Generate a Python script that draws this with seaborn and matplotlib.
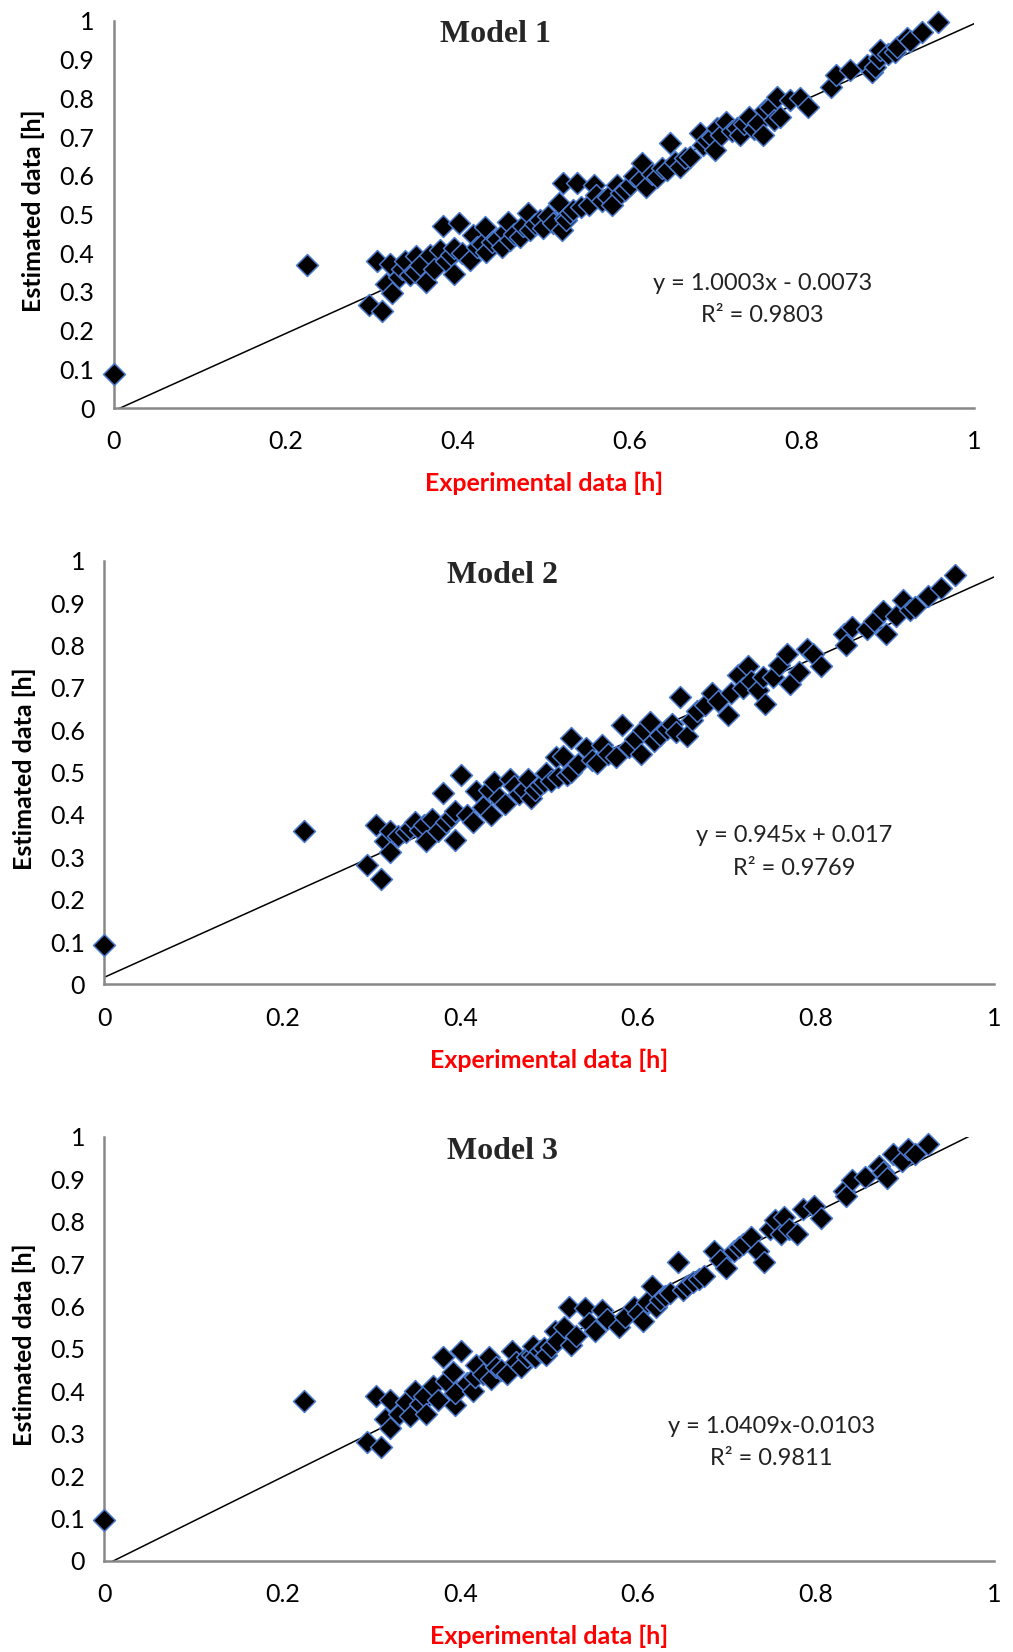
import matplotlib
matplotlib.use("Agg")
import matplotlib.pyplot as plt
import numpy as np
import pandas as pd
import seaborn as sns

# experimental vs estimated values
exp_1 = [0.000, 0.225, 0.297, 0.312, 0.306, 0.316, 0.321, 0.323, 0.331, 0.335,
         0.338, 0.344, 0.350, 0.351, 0.356, 0.363, 0.367, 0.372, 0.379, 0.383,
         0.386, 0.392, 0.395, 0.395, 0.401, 0.405, 0.414, 0.418, 0.422, 0.428,
         0.432, 0.433, 0.440, 0.445, 0.451, 0.455, 0.458, 0.460, 0.465, 0.472,
         0.476, 0.482, 0.484, 0.490, 0.495, 0.499, 0.505, 0.511, 0.517, 0.521,
         0.522, 0.524, 0.526, 0.530, 0.534, 0.538, 0.543, 0.552, 0.558, 0.561,
         0.568, 0.575, 0.579, 0.585, 0.590, 0.594, 0.600, 0.605, 0.612, 0.614,
         0.619, 0.625, 0.631, 0.637, 0.643, 0.647, 0.652, 0.658, 0.664, 0.670,
         0.681, 0.685, 0.689, 0.695, 0.699, 0.701, 0.706, 0.712, 0.718, 0.724,
         0.728, 0.733, 0.738, 0.744, 0.749, 0.755, 0.757, 0.763, 0.767, 0.771,
         0.774, 0.786, 0.798, 0.807, 0.834, 0.840, 0.856, 0.875, 0.881, 0.885,
         0.889, 0.891, 0.900, 0.908, 0.910, 0.922, 0.926, 0.939, 0.958]
est_1 = [0.088, 0.370, 0.266, 0.251, 0.381, 0.320, 0.371, 0.296, 0.339, 0.360,
         0.381, 0.345, 0.352, 0.393, 0.370, 0.326, 0.395, 0.360, 0.408, 0.470,
         0.380, 0.395, 0.413, 0.346, 0.479, 0.400, 0.382, 0.447, 0.415, 0.425,
         0.468, 0.404, 0.430, 0.438, 0.417, 0.455, 0.481, 0.434, 0.450, 0.443,
         0.470, 0.503, 0.460, 0.475, 0.486, 0.464, 0.495, 0.477, 0.529, 0.460,
         0.581, 0.490, 0.486, 0.505, 0.512, 0.581, 0.520, 0.525, 0.576, 0.550,
         0.535, 0.545, 0.525, 0.576, 0.555, 0.563, 0.575, 0.600, 0.589, 0.632,
         0.572, 0.605, 0.598, 0.620, 0.615, 0.684, 0.635, 0.624, 0.645, 0.649,
         0.710, 0.680, 0.692, 0.700, 0.667, 0.723, 0.705, 0.740, 0.715, 0.723,
         0.705, 0.735, 0.753, 0.720, 0.736, 0.705, 0.770, 0.779, 0.744, 0.804,
         0.753, 0.796, 0.800, 0.779, 0.830, 0.860, 0.873, 0.886, 0.869, 0.880,
         0.904, 0.925, 0.915, 0.921, 0.934, 0.955, 0.947, 0.972, 0.998]

exp_2 = [0.000, 0.224, 0.295, 0.311, 0.305, 0.315, 0.321, 0.321, 0.330, 0.339,
         0.344, 0.349, 0.355, 0.359, 0.361, 0.368, 0.375, 0.381, 0.384, 0.390,
         0.394, 0.394, 0.401, 0.407, 0.414, 0.418, 0.425, 0.432, 0.434, 0.438,
         0.444, 0.450, 0.456, 0.460, 0.466, 0.472, 0.476, 0.479, 0.484, 0.490,
         0.494, 0.496, 0.502, 0.508, 0.510, 0.516, 0.520, 0.524, 0.525, 0.532,
         0.541, 0.548, 0.554, 0.559, 0.566, 0.575, 0.582, 0.590, 0.596, 0.603,
         0.605, 0.613, 0.618, 0.625, 0.632, 0.638, 0.643, 0.647, 0.655, 0.660,
         0.666, 0.675, 0.683, 0.690, 0.701, 0.704, 0.712, 0.718, 0.723, 0.727,
         0.735, 0.740, 0.743, 0.752, 0.758, 0.767, 0.771, 0.781, 0.790, 0.796,
         0.806, 0.831, 0.834, 0.840, 0.857, 0.865, 0.875, 0.878, 0.890, 0.898,
         0.905, 0.911, 0.926, 0.940, 0.956]
est_2 = [0.093, 0.363, 0.283, 0.249, 0.376, 0.338, 0.312, 0.363, 0.350, 0.359,
         0.370, 0.384, 0.365, 0.376, 0.338, 0.390, 0.363, 0.451, 0.384, 0.395,
         0.409, 0.342, 0.494, 0.400, 0.384, 0.456, 0.420, 0.460, 0.401, 0.477,
         0.440, 0.426, 0.485, 0.468, 0.450, 0.460, 0.485, 0.440, 0.460, 0.470,
         0.477, 0.498, 0.480, 0.536, 0.489, 0.540, 0.495, 0.582, 0.502, 0.520,
         0.557, 0.530, 0.523, 0.565, 0.545, 0.536, 0.612, 0.561, 0.580, 0.544,
         0.600, 0.620, 0.575, 0.590, 0.603, 0.615, 0.595, 0.679, 0.586, 0.625,
         0.646, 0.660, 0.688, 0.670, 0.637, 0.688, 0.730, 0.700, 0.751, 0.717,
         0.696, 0.725, 0.662, 0.726, 0.755, 0.781, 0.709, 0.738, 0.793, 0.781,
         0.751, 0.827, 0.802, 0.844, 0.840, 0.857, 0.882, 0.827, 0.869, 0.907,
         0.885, 0.890, 0.916, 0.937, 0.966]

exp_3 = [0.000, 0.224, 0.295, 0.311, 0.305, 0.315, 0.321, 0.321, 0.331, 0.339,
         0.343, 0.349, 0.355, 0.359, 0.361, 0.369, 0.375, 0.381, 0.384, 0.392,
         0.394, 0.394, 0.401, 0.407, 0.414, 0.416, 0.418, 0.425, 0.432, 0.434,
         0.440, 0.446, 0.452, 0.458, 0.463, 0.468, 0.475, 0.481, 0.482, 0.484,
         0.490, 0.494, 0.496, 0.502, 0.506, 0.509, 0.517, 0.522, 0.525, 0.530,
         0.540, 0.545, 0.551, 0.559, 0.565, 0.578, 0.585, 0.595, 0.600, 0.605,
         0.610, 0.615, 0.620, 0.624, 0.630, 0.636, 0.645, 0.650, 0.655, 0.662,
         0.668, 0.674, 0.685, 0.692, 0.699, 0.708, 0.713, 0.718, 0.727, 0.735,
         0.741, 0.748, 0.754, 0.760, 0.764, 0.769, 0.779, 0.785, 0.798, 0.806,
         0.831, 0.834, 0.840, 0.855, 0.871, 0.875, 0.880, 0.886, 0.896, 0.903,
         0.911, 0.926]
est_3 = [0.096, 0.378, 0.280, 0.269, 0.388, 0.335, 0.314, 0.380, 0.347, 0.376,
         0.343, 0.400, 0.370, 0.388, 0.347, 0.412, 0.380, 0.482, 0.424, 0.445,
         0.367, 0.396, 0.494, 0.420, 0.400, 0.433, 0.461, 0.440, 0.482, 0.429,
         0.457, 0.450, 0.441, 0.494, 0.470, 0.457, 0.480, 0.486, 0.506, 0.482,
         0.495, 0.502, 0.486, 0.505, 0.543, 0.518, 0.551, 0.600, 0.510, 0.530,
         0.596, 0.560, 0.543, 0.592, 0.570, 0.551, 0.575, 0.600, 0.585, 0.567,
         0.610, 0.649, 0.600, 0.616, 0.625, 0.633, 0.706, 0.640, 0.649, 0.657,
         0.665, 0.673, 0.731, 0.710, 0.690, 0.731, 0.740, 0.747, 0.763, 0.731,
         0.706, 0.784, 0.804, 0.770, 0.812, 0.784, 0.771, 0.829, 0.837, 0.808,
         0.873, 0.861, 0.898, 0.906, 0.931, 0.918, 0.902, 0.959, 0.943, 0.971,
         0.959, 0.984]

models = ["Model 1", "Model 2", "Model 3"]
slopes = [1.0003, 0.945, 1.0409]
intercepts = [-0.0073, 0.017, -0.0103]
equations = ["y = 1.0003x - 0.0073", "y = 0.945x + 0.017", "y = 1.0409x-0.0103"]
r2_labels = ["R\u00b2 = 0.9803", "R\u00b2 = 0.9769", "R\u00b2 = 0.9811"]

sns.set_theme(style="white")
plt.rcParams["font.family"] = ["Lato", "DejaVu Sans"]

fig = plt.figure(figsize=(10.13, 16.52), dpi=100)
rects = [[0.1124, 0.7530, 0.8492, 0.2343],
         [0.1031, 0.4041, 0.8782, 0.2564],
         [0.1031, 0.0551, 0.8782, 0.2567]]
eq_pos = [(0.754, 0.321, 0.240), (0.775, 0.351, 0.274), (0.750, 0.318, 0.241)]
title_x = [0.443, 0.447, 0.447]
xlabel_y = [-0.165, -0.152, -0.151]
ylabel_x = [-0.080, -0.077, -0.077]

data = [(exp_1, est_1), (exp_2, est_2), (exp_3, est_3)]
axis_grey = "#888888"

for i, (xs, ys) in enumerate(data):
    ax = fig.add_axes(rects[i])
    df = pd.DataFrame({"Experimental": xs, "Estimated": ys})

    # trendline from the fitted equation
    lx = np.array([0.0, 1.0])
    ax.plot(lx, slopes[i] * lx + intercepts[i], color="black", lw=1.1, zorder=2)

    sns.scatterplot(data=df, x="Experimental", y="Estimated", ax=ax,
                    marker="D", s=125, color="black", edgecolor="#4a7bd0",
                    linewidth=1.1, zorder=3, clip_on=False)

    ax.set_xlim(0, 1)
    ax.set_ylim(0, 1)
    ax.set_xticks(np.arange(0, 1.01, 0.2))
    ax.set_xticklabels(["0", "0.2", "0.4", "0.6", "0.8", "1"])
    ax.set_yticks(np.arange(0, 1.01, 0.1))
    ax.set_yticklabels(["0", "0.1", "0.2", "0.3", "0.4", "0.5", "0.6",
                        "0.7", "0.8", "0.9", "1"])
    ax.tick_params(axis="both", which="major", direction="out", length=6,
                   width=1.3, color=axis_grey, labelsize=18, labelcolor="black")
    ax.tick_params(axis="x", pad=10)
    ax.tick_params(axis="y", pad=8)
    for side in ["top", "right"]:
        ax.spines[side].set_visible(False)
    for side in ["left", "bottom"]:
        ax.spines[side].set_color(axis_grey)
        ax.spines[side].set_linewidth(1.8)

    ax.set_xlabel("Experimental data [h]", color="red", fontsize=18,
                  fontweight="bold")
    ax.set_ylabel("Estimated data [h]", color="black", fontsize=18,
                  fontweight="bold")
    ax.xaxis.set_label_coords(0.5, xlabel_y[i])
    ax.yaxis.set_label_coords(ylabel_x[i], 0.51)

    ax.text(title_x[i], 0.965, models[i], transform=ax.transAxes,
            ha="center", va="center", fontsize=23, fontweight="bold",
            family=["Liberation Serif", "DejaVu Serif"])
    ex, ey, ry = eq_pos[i]
    ax.text(ex, ey, equations[i], transform=ax.transAxes, ha="center",
            va="center", fontsize=17, color="#222222")
    ax.text(ex, ry, r2_labels[i], transform=ax.transAxes, ha="center",
            va="center", fontsize=17, color="#222222")

fig.savefig("out.png", dpi=100)
